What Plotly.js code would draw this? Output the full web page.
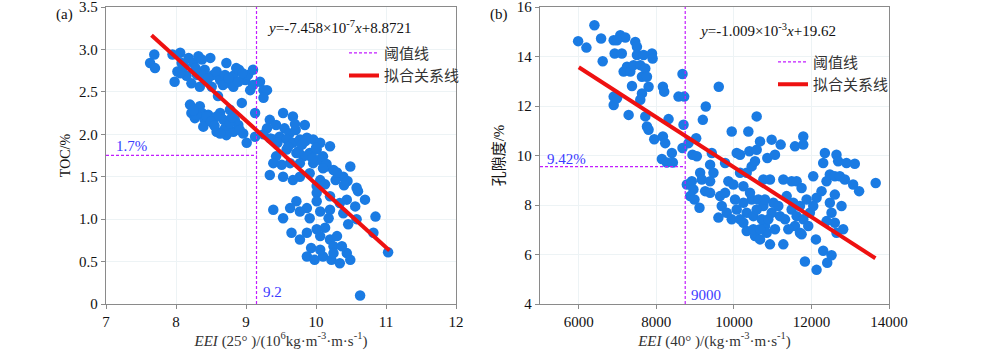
<!DOCTYPE html>
<html><head><meta charset="utf-8">
<script src="https://cdn.plot.ly/plotly-3.0.1.min.js"></script>
<style>body{margin:0;background:#fff}#chart{width:1000px;height:353px}</style>
</head><body><div id="chart"></div>
<script>
// ---- Panel (a): EEI(25°) vs TOC ----
const eeiA = [7.63,7.69,7.70,7.95,8.06,7.98,8.02,8.08,8.18,8.25,8.32,8.37,8.49,8.15,8.22,8.30,8.34,8.41,8.44,8.53,8.58,8.63,8.72,8.70,8.77,8.82,8.86,8.90,8.99,9.03,9.10,9.06,9.10,9.20,9.25,9.30,9.25,8.94,8.60,8.06,8.82,8.51,8.89,8.39,8.12,8.28,8.46,8.67,8.75,8.95,
  8.20,8.22,8.27,8.34,8.37,8.41,8.39,8.46,8.53,8.58,8.63,8.68,8.70,8.77,8.82,8.84,8.89,8.96,9.01,9.13,9.13,8.72,8.63,8.29,8.44,8.58,8.77,8.91,8.25,8.50,8.55,8.80,
  9.53,9.67,9.34,9.30,9.43,9.55,9.62,9.71,9.84,9.48,9.39,9.58,9.67,9.77,9.87,9.96,10.06,10.20,10.01,10.10,9.91,9.82,9.72,9.58,9.43,9.39,9.51,9.63,9.77,9.96,10.15,10.25,10.49,10.39,10.28,10.06,9.91,9.77,9.67,9.53,9.34,10.01,10.13,10.58,10.60,10.70,10.56,10.44,10.34,10.20,10.01,10.01,9.72,9.63,9.87,10.06,10.20,10.18,10.39,10.85,9.53,9.39,9.77,9.91,10.46,10.58,10.82,11.03,9.65,9.87,9.77,10.01,10.13,10.06,10.20,10.30,10.25,9.93,9.87,9.98,10.10,10.22,10.34,10.44,10.49,10.37,10.06,10.63,10.25,
  9.25,9.35,9.45,9.60,9.75,9.90,10.05,10.15,10.30,10.45,9.80,9.95,10.10,10.40,9.70,9.85,10.00];
const tocA = [2.84,2.94,2.78,2.94,2.96,2.62,2.74,2.84,2.90,2.84,2.92,2.88,2.90,2.69,2.60,2.70,2.56,2.76,2.64,2.70,2.74,2.64,2.84,2.70,2.60,2.69,2.78,2.76,2.64,2.70,2.76,2.52,2.58,2.62,2.52,2.52,2.43,2.37,2.45,2.72,2.56,2.56,2.62,2.69,2.80,2.78,2.66,2.58,2.66,2.72,
  2.35,2.25,2.19,2.33,2.25,2.17,2.09,2.23,2.13,2.03,2.25,2.17,2.07,2.29,2.03,2.17,2.11,2.01,1.90,2.25,1.97,1.99,2.01,2.23,2.21,2.21,2.13,2.05,2.28,2.15,2.10,2.20,
  2.25,2.21,2.17,2.07,2.11,2.07,2.01,2.05,2.11,1.97,1.94,1.94,1.90,1.94,1.96,1.94,1.90,1.86,1.82,1.74,1.78,1.74,1.78,1.82,1.74,1.66,1.64,1.66,1.66,1.66,1.62,1.58,1.62,1.50,1.46,1.46,1.54,1.50,1.46,1.50,1.52,1.39,1.41,1.37,1.33,1.23,1.15,1.23,1.19,1.27,1.31,1.21,1.21,1.13,1.13,1.09,1.11,1.01,1.07,1.03,1.01,1.11,1.09,1.01,0.94,1.00,0.84,0.61,0.84,0.84,0.76,0.88,0.90,0.80,0.76,0.80,0.68,0.66,0.56,0.52,0.56,0.52,0.48,0.60,0.52,0.68,0.64,0.10,0.60,
  2.00,1.95,1.90,1.85,1.80,1.75,1.70,1.65,1.55,1.45,1.88,1.72,1.60,1.40,2.12,1.92,1.84];
const fitA = {slope: -0.7458, intercept: 8.8721, xs: [7.65, 11.05]}; // x in 10^6 units
const thrA = {x: 9.15, y: 1.752, xLabel: '9.2', yLabel: '1.7%'};
const xTicksA = [7,8,9,10,11,12];
const yTicksA = [0,0.5,1,1.5,2,2.5,3,3.5];
const yTickTextA = ['0','0.5','1.0','1.5','2.0','2.5','3.0','3.5'];

// ---- Panel (b): EEI(40°) vs porosity ----
const eeiB = [5983,6197,6403,6575,6617,6900,6926,7070,7200,7110,7157,6986,7243,7329,7414,7457,7500,7500,7586,7629,7672,7715,7758,7800,7887,7904,7372,6900,6900,6986,7629,7586,7715,7758,7800,7286,7946,8169,8203,8315,8169,8229,8401,8143,8272,8426,8572,8718,8675,8701,8675,8829,9027,
  9610,9276,9199,8932,9044,8787,8915,8957,8872,8983,9113,9130,9173,9259,9387,9430,9473,9387,9387,9773,9944,10073,10159,10373,10588,10399,10588,10674,10862,10974,11060,11206,11575,11789,11789,9858,9987,9644,9773,9687,9816,9601,9944,10030,10159,10245,10330,10459,10545,10245,10330,10245,10330,10459,10502,10545,10674,10631,10760,10802,10845,10931,10974,11017,11060,10931,10760,11189,11275,11275,11489,11618,11746,11361,11489,11618,11703,11575,11703,11746,11875,11960,12046,12132,12115,11832,12132,12260,12303,12346,12389,12475,12603,12646,12689,12732,12861,12904,13118,13075,13229,13657,12475,12518,12603,12775,12818,12389,12303,12518,12407,12646,12603,
  10416,10588,10717,10888,10802,10502,10674,10073,10159,11146,11318,11404,11532,11789,11918,12046];
const porB = [14.62,14.36,15.26,14.73,13.81,14.66,14.12,14.86,14.77,14.12,13.39,14.66,13.59,13.39,13.65,14.59,14.39,14.06,13.65,13.18,14.06,13.52,13.18,12.78,14.12,13.92,12.81,12.38,12.04,12.31,12.51,12.25,11.58,11.17,11.04,11.64,10.66,12.78,12.58,11.47,10.77,10.50,10.10,9.86,9.72,9.72,12.38,12.38,13.29,11.24,10.30,10.50,10.70,
  12.78,11.98,11.44,10.03,9.97,8.83,8.96,8.63,8.36,8.22,7.89,9.30,9.03,8.56,9.63,10.10,9.30,8.96,8.49,9.70,10.97,10.10,10.03,10.97,11.58,10.17,10.23,10.57,9.90,10.64,10.03,10.44,10.37,10.77,10.44,8.96,8.83,8.36,8.49,7.96,7.69,7.49,7.42,8.22,9.30,8.76,9.30,9.56,9.77,8.09,7.69,7.28,6.95,8.22,7.55,6.75,6.61,8.22,7.96,7.15,6.88,6.41,7.69,8.09,7.02,9.03,9.03,7.55,6.41,9.03,8.96,8.96,8.69,8.36,7.82,7.55,7.96,7.15,6.88,6.82,8.22,7.69,9.16,8.29,6.61,5.72,5.38,8.56,9.70,10.10,8.96,9.23,9.16,10.03,9.77,9.16,9.03,9.70,9.67,8.83,8.56,8.89,8.09,7.69,7.28,7.96,7.02,7.35,6.15,5.97,5.67,6.88,8.42,
  8.49,7.82,7.42,7.42,8.22,7.02,7.02,7.82,7.42,7.96,7.42,7.02,8.09,7.42,7.15,7.96];
const fitB = {slope: -1.009e-3, intercept: 19.62, xs: [6000, 13650]};
const thrB = {x: 8745, y: 9.55, xLabel: '9000', yLabel: '9.42%'};
const xTicksB = [6000,8000,10000,12000,14000];
const xTickTextB = ['6000','8000','10000','12000','14000'];
const yTicksB = [4,6,8,10,12,14,16];
const yTickTextB = ['4','6','8','10','12','14','16'];

const ptColor = '#1a7be3';
const thrColor = '#c21cff';
const fitColor = '#ee1111';
const lblColor = '#3b3bff';
const serif = 'Liberation Serif';
const cjk = 'Liberation Serif, Noto Sans CJK SC';

function fitY(f){ return f.xs.map(x => f.slope*x + f.intercept); }

const thrLine = {color: thrColor, width:1.2, dash:'3px,2px'};

const traces = [
  {x: eeiA, y: tocA, xaxis:'x', yaxis:'y', mode:'markers', type:'scatter', showlegend:false,
   marker:{color: ptColor, size:10.5, line:{width:0}}},
  {x:[thrA.x, thrA.x], y:[0, 3.5], xaxis:'x', yaxis:'y', mode:'lines', name:'阈值线', legend:'legend', line:thrLine},
  {x:[7, thrA.x], y:[thrA.y, thrA.y], xaxis:'x', yaxis:'y', mode:'lines', showlegend:false, line:thrLine},
  {x: fitA.xs, y: fitY(fitA), xaxis:'x', yaxis:'y', mode:'lines', name:'拟合关系线', legend:'legend',
   line:{color: fitColor, width:4}},

  {x: eeiB, y: porB, xaxis:'x2', yaxis:'y2', mode:'markers', type:'scatter', showlegend:false,
   marker:{color: ptColor, size:10.5, line:{width:0}}},
  {x:[thrB.x, thrB.x], y:[4, 16], xaxis:'x2', yaxis:'y2', mode:'lines', name:'阈值线', legend:'legend2', line:thrLine},
  {x:[5000, thrB.x], y:[thrB.y, thrB.y], xaxis:'x2', yaxis:'y2', mode:'lines', showlegend:false, line:thrLine},
  {x: fitB.xs, y: fitY(fitB), xaxis:'x2', yaxis:'y2', mode:'lines', name:'拟合关系线', legend:'legend2',
   line:{color: fitColor, width:4}}
];

const axisCommon = {
  showline:true, mirror:true, linecolor:'#8a8a8a', linewidth:1.3,
  ticks:'outside', ticklen:4, tickcolor:'#8a8a8a',
  showgrid:true, gridcolor:'#edf3f5', gridwidth:1, zeroline:false,
  ticklabeloverflow:'allow',
  tickfont:{family: serif, size:15, color:'#111'}
};

const layout = {
  width:1000, height:353,
  margin:{l:0, r:0, t:7, b:49},
  paper_bgcolor:'#fff', plot_bgcolor:'#fff',
  xaxis: Object.assign({}, axisCommon, {domain:[0.106,0.456], range:[7,12], tickvals:xTicksA, anchor:'y',
    title:{text:'<i>EEI</i> (25° )/(10<sup>6</sup>kg·m<sup>-3</sup>·m·s<sup>-1</sup>)', font:{family:serif, size:15, color:'#333'}, standoff:5}}),
  yaxis: Object.assign({}, axisCommon, {domain:[0,1], range:[0,3.5], tickvals:yTicksA, ticktext:yTickTextA, anchor:'x',
    title:{text:'TOC/%', font:{family:serif, size:14, color:'#111'}, standoff:5}}),
  xaxis2: Object.assign({}, axisCommon, {domain:[0.540,0.889], range:[5000,14000], tickvals:xTicksB, ticktext:xTickTextB, anchor:'y2',
    title:{text:'<i>EEI</i> (40° )/(kg·m<sup>-3</sup>·m·s<sup>-1</sup>)', font:{family:serif, size:15, color:'#333'}, standoff:5}}),
  yaxis2: Object.assign({}, axisCommon, {domain:[0,1], range:[4,16], tickvals:yTicksB, ticktext:yTickTextB, anchor:'x2',
    title:{text:'孔隙度/%', font:{family:cjk, size:15, color:'#111'}, standoff:8}}),
  legend: {x:0.344, y:0.90, xanchor:'left', yanchor:'top', bgcolor:'rgba(0,0,0,0)', itemwidth:30,
    font:{family:cjk, size:15, color:'#333'}, tracegroupgap:0},
  legend2: {x:0.773, y:0.87, xanchor:'left', yanchor:'top', bgcolor:'rgba(0,0,0,0)', itemwidth:30,
    font:{family:cjk, size:15, color:'#333'}, tracegroupgap:0},
  annotations: [
    {xref:'x', yref:'y', x:9.27, y:3.26, xanchor:'left', yanchor:'middle', showarrow:false,
     text:'<i>y</i>=-7.458×10<sup>-7</sup><i>x</i>+8.8721', font:{family:serif, size:15, color:'#111'}},
    {xref:'x', yref:'y', x:7.12, y:1.86, xanchor:'left', yanchor:'middle', showarrow:false,
     text:thrA.yLabel, font:{family:serif, size:15, color:lblColor}},
    {xref:'x', yref:'y', x:9.22, y:0.14, xanchor:'left', yanchor:'middle', showarrow:false,
     text:thrA.xLabel, font:{family:serif, size:15, color:lblColor}},
    {xref:'x2', yref:'y2', x:9060, y:15.07, xanchor:'left', yanchor:'middle', showarrow:false,
     text:'<i>y</i>=-1.009×10<sup>-3</sup><i>x</i>+19.62', font:{family:serif, size:15, color:'#111'}},
    {xref:'x2', yref:'y2', x:5120, y:9.86, xanchor:'left', yanchor:'middle', showarrow:false,
     text:thrB.yLabel, font:{family:serif, size:15, color:lblColor}},
    {xref:'x2', yref:'y2', x:8830, y:4.38, xanchor:'left', yanchor:'middle', showarrow:false,
     text:thrB.xLabel, font:{family:serif, size:15, color:lblColor}},
    {xref:'paper', yref:'paper', x:0.054, y:0.975, xanchor:'left', yanchor:'middle', showarrow:false,
     text:'(a)', font:{family:serif, size:15, color:'#111'}},
    {xref:'paper', yref:'paper', x:0.488, y:0.975, xanchor:'left', yanchor:'middle', showarrow:false,
     text:'(b)', font:{family:serif, size:15, color:'#111'}}
  ]
};

Plotly.newPlot('chart', traces, layout, {displayModeBar:false, staticPlot:true});
</script></body></html>
